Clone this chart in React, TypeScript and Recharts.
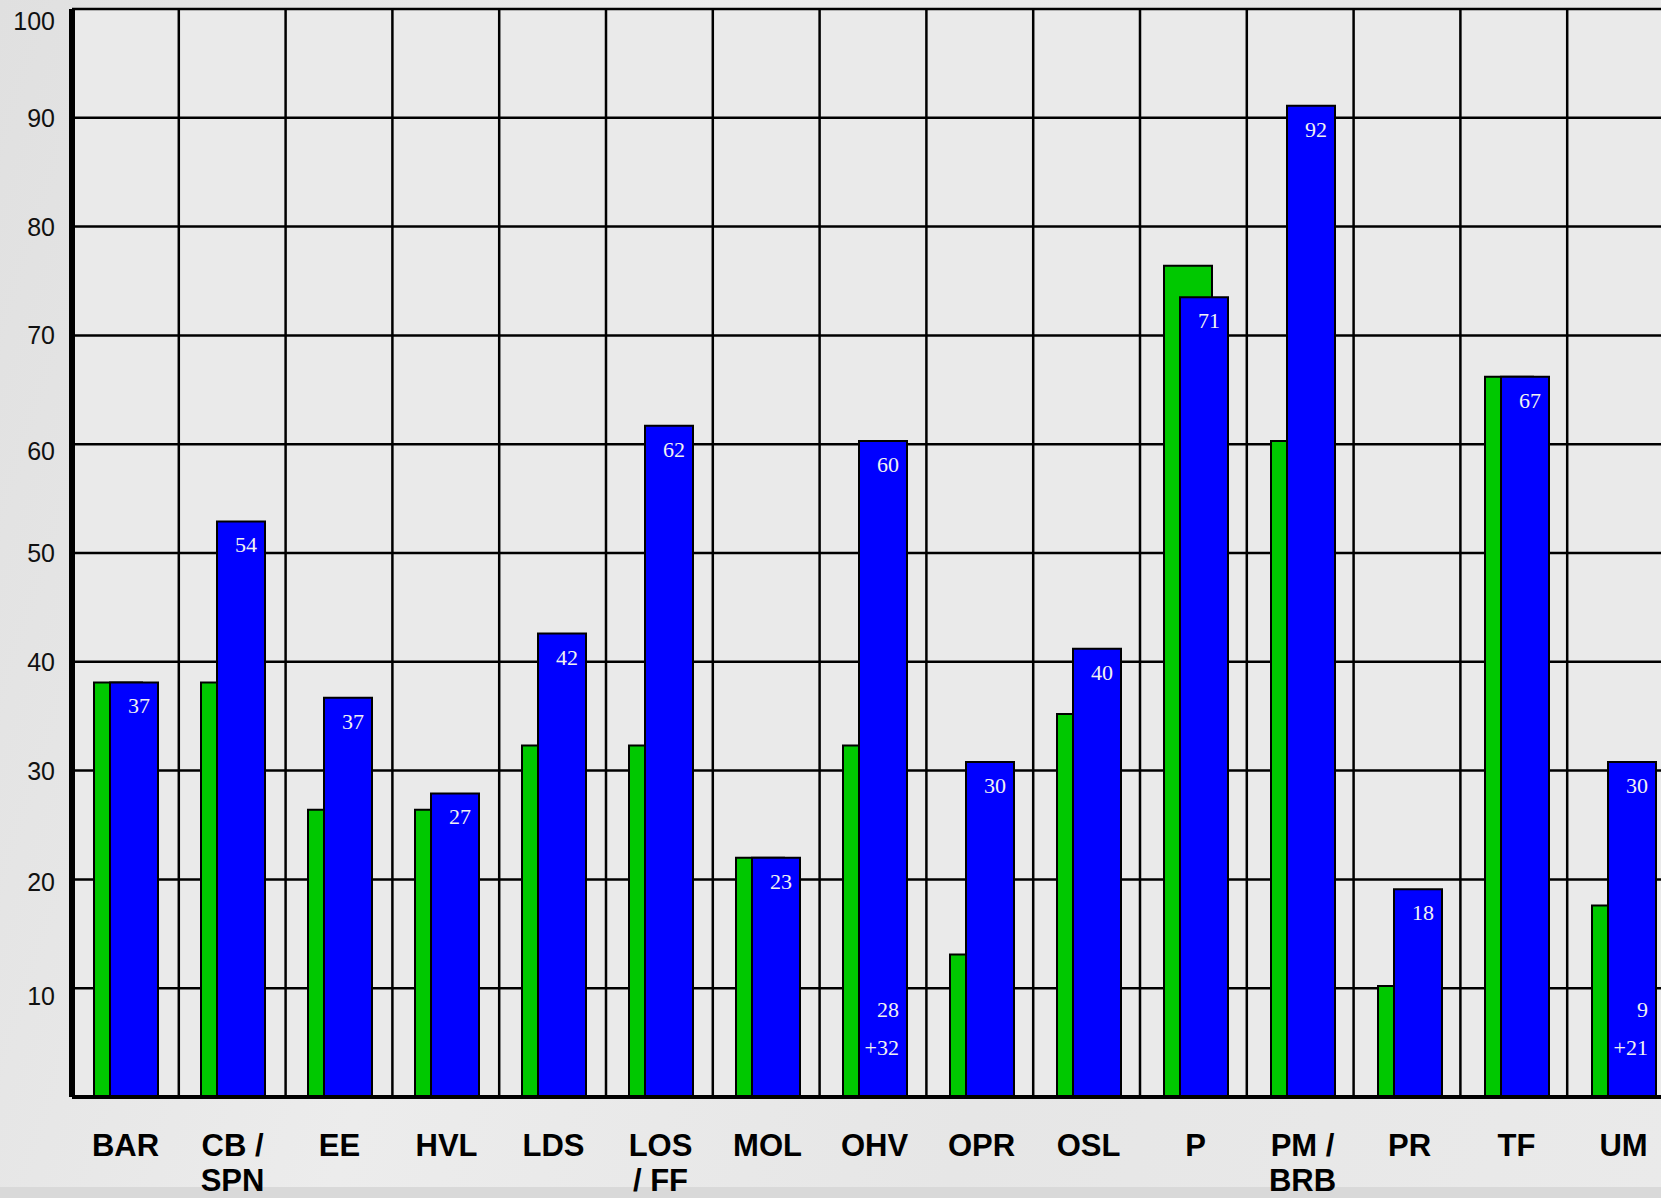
import { BarChart, Bar, XAxis, YAxis, CartesianGrid, LabelList } from "recharts";

const categories = [
  "BAR",
  "CB /\nSPN",
  "EE",
  "HVL",
  "LDS",
  "LOS\n/ FF",
  "MOL",
  "OHV",
  "OPR",
  "OSL",
  "P",
  "PM /\nBRB",
  "PR",
  "TF",
  "UM",
];
const greenValues = [38.1, 38.1, 26.4, 26.4, 32.3, 32.3, 22.0, 32.3, 13.1, 35.2, 76.4, 60.3, 10.2, 66.2, 17.6];
const blueValues = [38.1, 52.9, 36.7, 27.9, 42.6, 61.7, 22.0, 60.3, 30.8, 41.2, 73.5, 91.1, 19.1, 66.2, 30.8];
const blueLabels = ["37", "54", "37", "27", "42", "62", "23", "60", "30", "40", "71", "92", "18", "67", "30"];
const upperNotes = ["", "", "", "", "", "", "", "28", "", "", "", "", "", "", "9"];
const lowerNotes = ["", "", "", "", "", "", "", "+32", "", "", "", "", "", "", "+21"];
const yTicks = [10, 20, 30, 40, 50, 60, 70, 80, 90, 100];

const data = categories.map((name, i) => ({
  name,
  green: greenValues[i],
  blue: blueValues[i],
  label: blueLabels[i],
  noteA: upperNotes[i],
  noteB: lowerNotes[i],
}));

const PLOT_LEFT = 72;
const GRID_STEP = 106.8;
const gridX = Array.from({ length: 16 }, (_, i) => PLOT_LEFT + i * GRID_STEP);

// a few y labels sit a little low in the original
const tickNudge: Record<number, number> = { 100: 12, 60: 7, 10: 8, 20: 3 };

function ValueTick({ x, y, payload }: any) {
  const v = Number(payload.value);
  return (
    <text
      x={x}
      y={y + (tickNudge[v] || 0)}
      dy="0.36em"
      textAnchor="end"
      fontFamily="'Liberation Sans', Arial, sans-serif"
      fontSize={25}
      fill="#111"
    >
      {v}
    </text>
  );
}

function CategoryTick({ x, y, payload }: any) {
  const lines = String(payload.value).split("\n");
  return (
    <text
      x={x}
      y={y + 59}
      textAnchor="middle"
      fontFamily="'Liberation Sans', Arial, sans-serif"
      fontWeight={700}
      fontSize={31}
      fill="#000"
    >
      {lines.map((l, i) => (
        <tspan key={i} x={x} dy={i === 0 ? 0 : 35}>
          {l}
        </tspan>
      ))}
    </text>
  );
}

function barText(dy: number, fromBottom: boolean) {
  return (props: any) => {
    const vb = props.viewBox ?? props;
    const { x, y, width, height } = vb;
    if (!props.value) return null;
    const ty = fromBottom ? y + height - dy : y + dy;
    return (
      <text
        x={x + width - 8}
        y={ty}
        textAnchor="end"
        fontFamily="'Liberation Serif', 'Times New Roman', serif"
        fontSize={22}
        fill="#f2f2f2"
      >
        {props.value}
      </text>
    );
  };
}

export default function App() {
  return (
    <div
      style={{
        position: "fixed",
        left: 0,
        top: 0,
        width: 1661,
        height: 1198,
        overflow: "hidden",
        background:
          "linear-gradient(to bottom, rgba(0,0,0,0) 1187px, #d9d9d9 1187px), linear-gradient(108deg, #e0e0e0 0%, #ececec 35%, #e6e6e6 65%, #eaeaea 100%)",
      }}
    >
      <BarChart
        width={1687}
        height={1198}
        data={data}
        margin={{ top: 9, right: 10, left: 0, bottom: 0 }}
        barGap={-32}
      >
        <CartesianGrid
          fill="#eaeaea"
          stroke="#000"
          strokeWidth={2.5}
          verticalPoints={gridX}
        />
        <Bar
          dataKey="green"
          barSize={48}
          fill="#00c800"
          stroke="#000"
          strokeWidth={2}
          isAnimationActive={false}
        />
        <Bar
          dataKey="blue"
          barSize={48}
          fill="#0000ff"
          stroke="#000"
          strokeWidth={2}
          isAnimationActive={false}
        >
          <LabelList dataKey="label" content={barText(31, false)} />
          <LabelList dataKey="noteA" content={barText(80, true)} />
          <LabelList dataKey="noteB" content={barText(42, true)} />
        </Bar>
        <XAxis
          dataKey="name"
          interval={0}
          height={101}
          tickLine={false}
          tickSize={0}
          tickMargin={0}
          axisLine={{ stroke: "#000", strokeWidth: 4 }}
          tick={<CategoryTick />}
        />
        <YAxis
          domain={[0, 100]}
          ticks={yTicks}
          width={72}
          tickLine={false}
          tickSize={0}
          tickMargin={17}
          axisLine={{ stroke: "#000", strokeWidth: 6 }}
          tick={<ValueTick />}
        />
      </BarChart>
    </div>
  );
}
